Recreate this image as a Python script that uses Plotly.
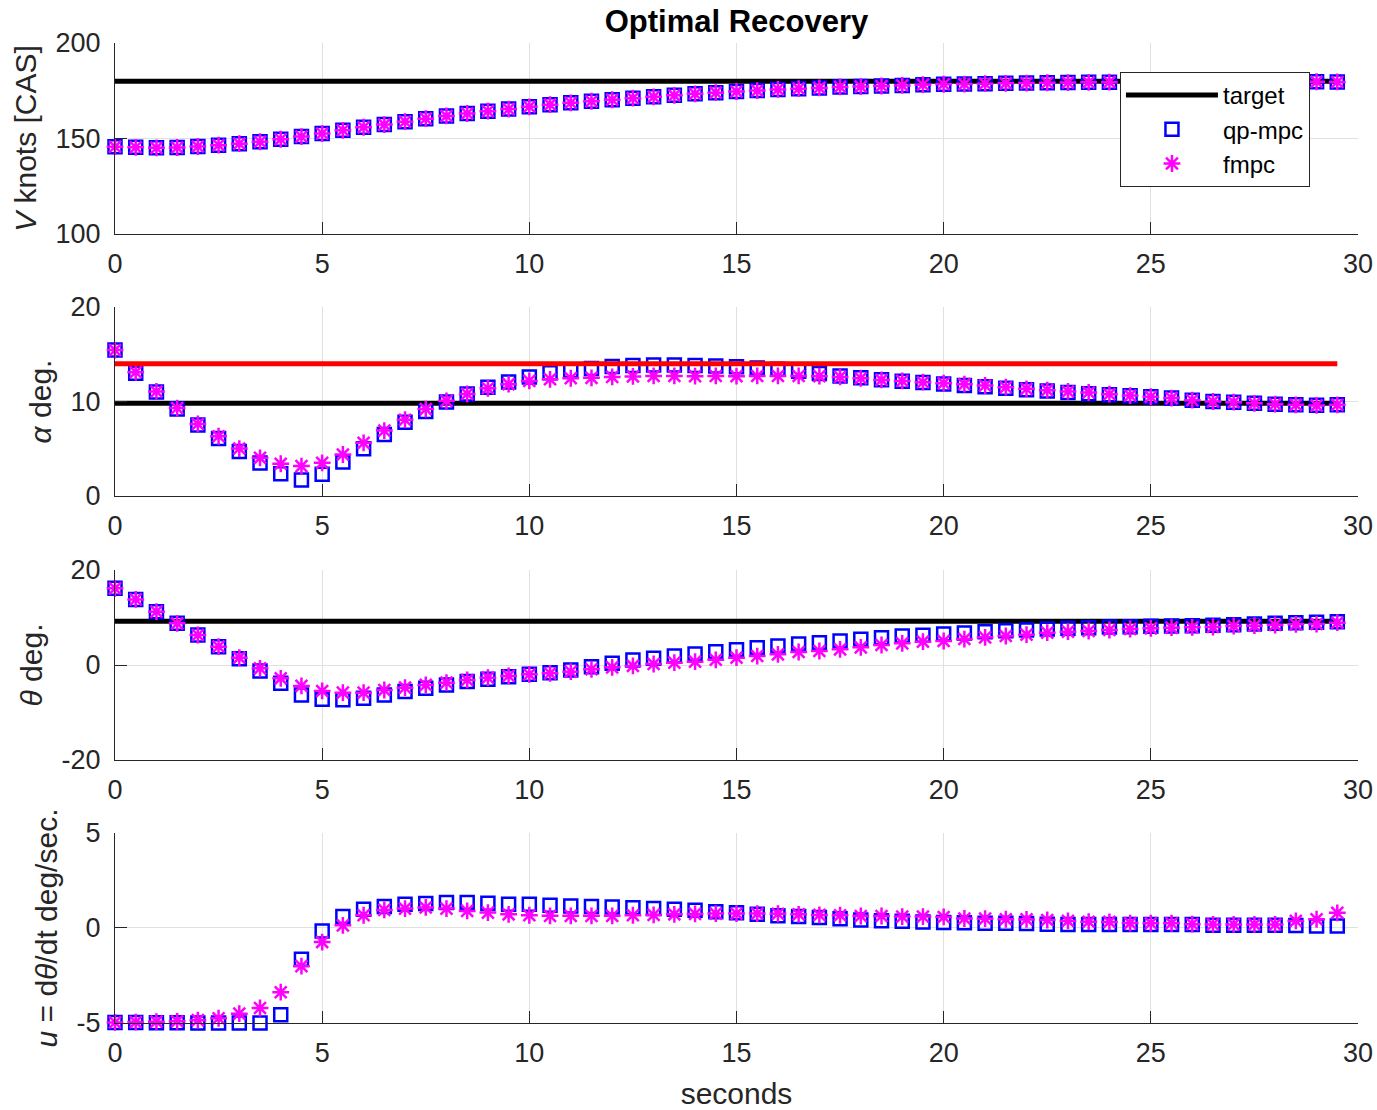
import plotly.graph_objects as go

# ---------------- data ----------------
t = [0.0, 0.5, 1.0, 1.5, 2.0, 2.5, 3.0, 3.5, 4.0, 4.5,
     5.0, 5.5, 6.0, 6.5, 7.0, 7.5, 8.0, 8.5, 9.0, 9.5,
     10.0, 10.5, 11.0, 11.5, 12.0, 12.5, 13.0, 13.5, 14.0, 14.5,
     15.0, 15.5, 16.0, 16.5, 17.0, 17.5, 18.0, 18.5, 19.0, 19.5,
     20.0, 20.5, 21.0, 21.5, 22.0, 22.5, 23.0, 23.5, 24.0, 24.5,
     25.0, 25.5, 26.0, 26.5, 27.0, 27.5, 28.0, 28.5, 29.0, 29.5]

V_qp = [145.7, 145.4, 145.1, 145.3, 145.8, 146.5, 147.3, 148.3, 149.6, 151.0,
        152.6, 154.3, 155.9, 157.3, 158.8, 160.4, 161.8, 163.1, 164.3, 165.4,
        166.6, 167.7, 168.7, 169.5, 170.3, 171.1, 171.8, 172.6, 173.4, 174.0,
        174.6, 175.1, 175.7, 176.1, 176.5, 177.0, 177.2, 177.5, 177.8, 178.2,
        178.4, 178.5, 178.7, 178.9, 179.0, 179.2, 179.3, 179.4, 179.5, 179.5,
        179.6, 179.6, 179.7, 179.7, 179.7, 179.7, 179.7, 179.7, 179.7, 179.6]
V_fmpc = [145.7, 145.4, 145.1, 145.3, 145.8, 146.5, 147.3, 148.3, 149.6, 151.0,
          152.6, 154.3, 155.9, 157.3, 158.8, 160.4, 161.8, 163.1, 164.3, 165.4,
          166.6, 167.7, 168.7, 169.5, 170.3, 171.1, 171.8, 172.6, 173.4, 174.0,
          174.6, 175.1, 175.7, 176.1, 176.5, 177.0, 177.2, 177.5, 177.8, 178.2,
          178.4, 178.5, 178.7, 178.9, 179.0, 179.2, 179.3, 179.4, 179.5, 179.5,
          179.6, 179.6, 179.7, 179.7, 179.7, 179.7, 179.7, 179.7, 179.7, 179.6]

alpha_qp = [15.44, 13.0, 11.0, 9.2, 7.5, 6.07, 4.7, 3.5, 2.35, 1.7,
            2.3, 3.6, 5.0, 6.5, 7.8, 8.95, 9.95, 10.8, 11.5, 12.05,
            12.6, 13.05, 13.25, 13.5, 13.7, 13.8, 13.86, 13.86, 13.82, 13.75,
            13.68, 13.55, 13.4, 13.2, 12.95, 12.7, 12.5, 12.3, 12.15, 12.0,
            11.85, 11.7, 11.55, 11.4, 11.25, 11.1, 10.95, 10.82, 10.7, 10.6,
            10.5, 10.36, 10.14, 10.0, 9.93, 9.8, 9.72, 9.65, 9.6, 9.65]
alpha_fmpc = [15.44, 13.1, 11.06, 9.3, 7.62, 6.32, 5.02, 4.04, 3.41, 3.16,
              3.51, 4.39, 5.62, 6.92, 8.07, 9.2, 10.07, 10.8, 11.4, 11.83,
              12.18, 12.35, 12.46, 12.5, 12.6, 12.65, 12.7, 12.7, 12.68, 12.7,
              12.68, 12.7, 12.7, 12.7, 12.68, 12.6, 12.46, 12.28, 12.18, 12.04,
              11.93, 11.83, 11.69, 11.51, 11.34, 11.2, 11.06, 10.95, 10.77, 10.63,
              10.5, 10.36, 10.14, 10.0, 9.93, 9.8, 9.72, 9.65, 9.58, 9.65]

theta_qp = [16.14, 13.82, 11.23, 8.77, 6.32, 3.86, 1.3, -1.26, -3.86, -6.3,
            -7.2, -7.3, -7.02, -6.3, -5.6, -4.9, -4.2, -3.5, -3.0, -2.46,
            -1.96, -1.61, -1.05, -0.35, 0.35, 1.05, 1.4, 1.9, 2.32, 2.81,
            3.2, 3.65, 4.0, 4.42, 4.7, 5.05, 5.4, 5.75, 6.11, 6.25,
            6.53, 6.74, 7.02, 7.23, 7.37, 7.58, 7.72, 7.86, 8.0, 8.07,
            8.15, 8.21, 8.28, 8.35, 8.5, 8.63, 8.77, 8.88, 8.98, 9.1]
theta_fmpc = [16.14, 13.82, 11.23, 8.77, 6.32, 3.86, 1.54, -0.7, -2.8, -4.4,
              -5.47, -5.82, -5.82, -5.26, -4.77, -4.2, -3.72, -3.15, -2.67, -2.3,
              -1.96, -1.75, -1.4, -0.9, -0.49, -0.2, 0.21, 0.5, 0.7, 1.1,
              1.54, 1.89, 2.25, 2.74, 2.95, 3.3, 3.72, 4.21, 4.56, 4.91,
              5.05, 5.47, 5.82, 6.11, 6.39, 6.81, 7.02, 7.16, 7.37, 7.58,
              7.72, 7.86, 7.93, 8.0, 8.21, 8.28, 8.42, 8.56, 8.63, 8.91]

u_qp = [-4.97, -4.98, -4.99, -4.99, -5.0, -5.0, -5.0, -5.0, -4.56, -1.65,
        -0.16, 0.6, 0.99, 1.13, 1.25, 1.29, 1.34, 1.34, 1.3, 1.25,
        1.25, 1.2, 1.16, 1.13, 1.11, 1.06, 1.02, 0.99, 0.93, 0.86,
        0.8, 0.72, 0.65, 0.6, 0.55, 0.49, 0.42, 0.38, 0.36, 0.32,
        0.29, 0.28, 0.25, 0.25, 0.24, 0.2, 0.19, 0.19, 0.19, 0.19,
        0.19, 0.18, 0.18, 0.15, 0.14, 0.14, 0.14, 0.13, 0.1, 0.1]
u_fmpc = [-4.97, -4.95, -4.93, -4.91, -4.85, -4.75, -4.51, -4.21, -3.38, -2.01,
          -0.74, 0.14, 0.67, 0.95, 1.02, 1.08, 1.02, 0.9, 0.81, 0.72,
          0.67, 0.64, 0.64, 0.64, 0.64, 0.67, 0.69, 0.72, 0.74, 0.76,
          0.76, 0.76, 0.75, 0.72, 0.69, 0.67, 0.63, 0.63, 0.6, 0.6,
          0.58, 0.5, 0.49, 0.46, 0.45, 0.42, 0.37, 0.33, 0.32, 0.26,
          0.25, 0.25, 0.2, 0.19, 0.19, 0.19, 0.19, 0.37, 0.46, 0.8]

V_target = 180.0
alpha_target = 9.8
alpha_max = 14.0
theta_target = 9.2

x_ticks = [0, 5, 10, 15, 20, 25, 30]
y_ranges = [[100, 200], [0, 20], [-20, 20], [-5, 5]]
y_ticks = [[100, 150, 200], [0, 10, 20], [-20, 0, 20], [-5, 0, 5]]
y_ticktext = [["100", "150", "200"], ["0", "10", "20"], ["-20", "0", "20"], ["-5", "0", "5"]]
y_titles = ["<i>V</i> knots [CAS]", "<i>α</i> deg.", "<i>θ</i> deg.", "<i>u</i> = d<i>θ</i>/dt deg/sec."]

# ---------------- style ----------------
W, H = 1377, 1110
FONT = "Liberation Sans, Arial, Helvetica, sans-serif"
AXC = "#262626"
GRID = "#e0e0e0"
domains = [[0.8051, 1.0], [0.5378, 0.7306], [0.2684, 0.4622], [0.0, 0.1939]]

fig = go.Figure()

def add_target(row, y, color, show=False, name="target"):
    xs = "x" if row == 1 else f"x{row}"
    ys = "y" if row == 1 else f"y{row}"
    fig.add_trace(go.Scatter(x=[t[0], t[-1]], y=[y, y], mode="lines",
                             line=dict(color=color, width=5),
                             name=name, showlegend=show, xaxis=xs, yaxis=ys,
                             legendrank=1, cliponaxis=False))

def add_series(row, yqp, yf, show=False):
    xs = "x" if row == 1 else f"x{row}"
    ys = "y" if row == 1 else f"y{row}"
    fig.add_trace(go.Scatter(x=t, y=yqp, mode="markers", name="qp-mpc",
                             marker=dict(symbol="square-open", size=13, color="#0000ff",
                                         line=dict(width=2.5, color="#0000ff")),
                             showlegend=show, xaxis=xs, yaxis=ys, legendrank=2,
                             cliponaxis=False))
    fig.add_trace(go.Scatter(x=t, y=yf, mode="markers", name="fmpc",
                             marker=dict(symbol="asterisk-open", size=14, color="#ff00ff",
                                         line=dict(width=2.5, color="#ff00ff")),
                             showlegend=show, xaxis=xs, yaxis=ys, legendrank=3,
                             cliponaxis=False))

add_target(1, V_target, "black", show=True)
add_series(1, V_qp, V_fmpc, show=True)

add_target(2, alpha_target, "black")
add_series(2, alpha_qp, alpha_fmpc)
add_target(2, alpha_max, "#ff0000", name="alpha max")

add_target(3, theta_target, "black")
add_series(3, theta_qp, theta_fmpc)

add_series(4, u_qp, u_fmpc)

layout = dict(
    width=W, height=H, autosize=False,
    margin=dict(l=115, r=19, t=43, b=87, autoexpand=False),
    paper_bgcolor="white", plot_bgcolor="white",
    font=dict(family=FONT, color=AXC, size=27),
    title=dict(text="<b>Optimal Recovery</b>", x=0.5, xref="paper", xanchor="center",
               y=1 - 21 / H, yref="container", yanchor="middle",
               font=dict(family=FONT, size=31, color="black")),
    legend=dict(x=0.8085, y=0.9704, xref="paper", yref="paper",
                xanchor="left", yanchor="top",
                bgcolor="white", bordercolor="#262626", borderwidth=1,
                font=dict(family=FONT, size=24, color="black"),
                tracegroupgap=0, itemsizing="trace", itemwidth=92,
                entrywidth=222, entrywidthmode="pixels"),
    showlegend=True,
)

for i in range(4):
    k = "" if i == 0 else str(i + 1)
    layout["xaxis" + k] = dict(
        domain=[0, 1], anchor="y" + k, range=[0, 30], automargin=False,
        tickmode="array", tickvals=x_ticks, ticktext=[str(v) for v in x_ticks],
        ticks="inside", ticklen=12, tickwidth=1, tickcolor=AXC,
        showline=True, linecolor=AXC, linewidth=1,
        showgrid=True, gridcolor=GRID, gridwidth=1, zeroline=False,
        tickfont=dict(family=FONT, size=27, color=AXC),
        ticklabelstandoff=6,
    )
    layout["yaxis" + k] = dict(
        domain=domains[i], anchor="x" + k, range=y_ranges[i], automargin=False,
        tickmode="array", tickvals=y_ticks[i], ticktext=y_ticktext[i],
        ticks="inside", ticklen=12, tickwidth=1, tickcolor=AXC,
        showline=True, linecolor=AXC, linewidth=1,
        showgrid=True, gridcolor=GRID, gridwidth=1, zeroline=False,
        tickfont=dict(family=FONT, size=27, color=AXC),
        ticklabelstandoff=8,
        title=dict(text=y_titles[i], font=dict(family=FONT, size=30, color=AXC), standoff=10),
    )

layout["xaxis4"]["title"] = dict(text="seconds", font=dict(family=FONT, size=30, color=AXC), standoff=16)

fig.update_layout(**layout)
fig.write_html("out.html")
